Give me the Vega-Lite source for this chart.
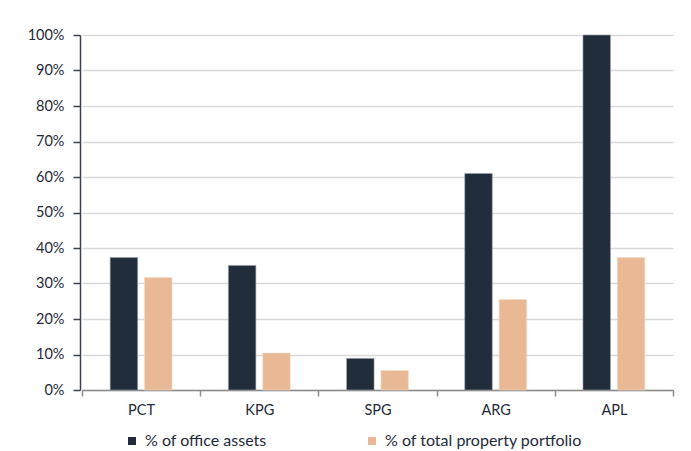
{
  "$schema": "https://vega.github.io/schema/vega-lite/v6.json",
  "autosize": "none",
  "width": 593,
  "height": 355,
  "padding": {"left": 80, "top": 35, "right": 18, "bottom": 61},
  "background": "white",
  "config": {
    "font": "Lato",
    "view": {"stroke": null},
    "axis": {"labelFont": "Lato", "labelColor": "#1f2a3a", "labelFontSize": 14.5}
  },
  "data": {
    "values": [
      {"company": "PCT", "series": "% of office assets", "value": 0.373},
      {"company": "PCT", "series": "% of total property portfolio", "value": 0.317},
      {"company": "KPG", "series": "% of office assets", "value": 0.351},
      {"company": "KPG", "series": "% of total property portfolio", "value": 0.104},
      {"company": "SPG", "series": "% of office assets", "value": 0.089},
      {"company": "SPG", "series": "% of total property portfolio", "value": 0.055},
      {"company": "ARG", "series": "% of office assets", "value": 0.610},
      {"company": "ARG", "series": "% of total property portfolio", "value": 0.255},
      {"company": "APL", "series": "% of office assets", "value": 1.0},
      {"company": "APL", "series": "% of total property portfolio", "value": 0.373}
    ]
  },
  "mark": {"type": "bar", "strokeWidth": 1, "strokeOpacity": 0.6},
  "encoding": {
    "x": {
      "field": "company",
      "type": "nominal",
      "sort": ["PCT", "KPG", "SPG", "ARG", "APL"],
      "title": null,
      "scale": {"paddingInner": 0, "paddingOuter": 0, "range": [2, 593]},
      "axis": {
        "labelAngle": 0,
        "tickBand": "extent",
        "domainColor": "#8c8c8c",
        "domainWidth": 1.5,
        "tickColor": "#8c8c8c",
        "tickWidth": 1.5,
        "tickSize": 6,
        "labelPadding": 7,
        "grid": false
      }
    },
    "xOffset": {
      "field": "series",
      "type": "nominal",
      "scale": {"paddingInner": 0.2, "paddingOuter": 0.82}
    },
    "y": {
      "field": "value",
      "type": "quantitative",
      "title": null,
      "scale": {"domain": [0, 1], "nice": false},
      "axis": {
        "format": ".0%",
        "values": [0, 0.1, 0.2, 0.3, 0.4, 0.5, 0.6, 0.7, 0.8, 0.9, 1.0],
        "grid": true,
        "gridColor": "#d9d9d9",
        "gridWidth": 1.5,
        "domainColor": "#3a4250",
        "domainWidth": 1.5,
        "tickColor": "#3a4250",
        "tickWidth": 1.5,
        "tickSize": 7,
        "labelPadding": 9
      }
    },
    "color": {
      "field": "series",
      "type": "nominal",
      "scale": {
        "domain": ["% of office assets", "% of total property portfolio"],
        "range": ["#222d3b", "#e8b994"]
      },
      "legend": {
        "orient": "none",
        "legendX": 44,
        "legendY": 398,
        "direction": "horizontal",
        "title": null,
        "symbolType": "square",
        "symbolSize": 64,
        "symbolStrokeWidth": 0,
        "labelFont": "Lato",
        "labelFontSize": 16,
        "labelColor": "#1f2a3a",
        "labelOffset": 5,
        "columnPadding": 97,
        "labelLimit": 300
      }
    },
    "stroke": {
      "field": "series",
      "type": "nominal",
      "scale": {
        "domain": ["% of office assets", "% of total property portfolio"],
        "range": ["#9aa0a8", "#f5dcc8"]
      },
      "legend": null
    }
  }
}
